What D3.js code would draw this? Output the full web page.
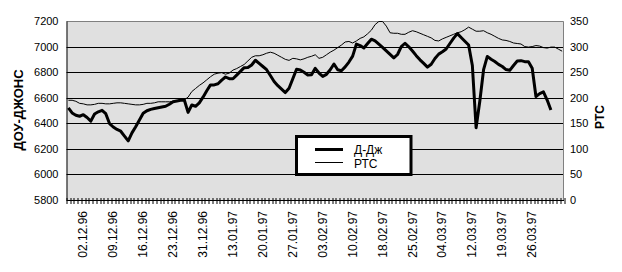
<!DOCTYPE html>
<html>
<head>
<meta charset="utf-8">
<script src="https://d3js.org/d3.v7.min.js"></script>
<style>
    body { margin: 0; background: #fff; }
    text { font-family: Arial, "Liberation Sans", sans-serif; fill: #000; }
</style>
</head>
<body>
<div id="chart-area"></div>
<script>
// Tick labels (every 8th trading day, first one at day 4)
var dateLabels = ["02.12.96", "09.12.96", "16.12.96", "23.12.96", "31.12.96", "13.01.97",
    "20.01.97", "27.01.97", "03.02.97", "10.02.97", "18.02.97", "25.02.97",
    "04.03.97", "12.03.97", "19.03.97", "26.03.97"];

// Dow Jones (left axis)
var djValues = [
    6520, 6481, 6463, 6455, 6467, 6445, 6417, 6473, 6490, 6501,
    6475, 6398, 6371, 6352, 6338, 6300, 6262, 6325, 6373, 6425,
    6478, 6498, 6509, 6516, 6522, 6528, 6533, 6549, 6568, 6574,
    6580, 6582, 6485, 6543, 6533, 6560, 6604, 6654, 6700, 6700,
    6709, 6738, 6762, 6749, 6748, 6777, 6806, 6835, 6836, 6856,
    6893, 6868, 6844, 6819, 6774, 6727, 6694, 6667, 6640, 6674,
    6748, 6823, 6817, 6799, 6778, 6779, 6830, 6793, 6767, 6783,
    6819, 6864, 6819, 6811, 6841, 6879, 6925, 7019, 7008, 6989,
    7024, 7058, 7045, 7019, 6994, 6967, 6939, 6911, 6938, 7000,
    7026, 6998, 6965, 6929, 6896, 6868, 6839, 6862, 6907, 6941,
    6959, 6981, 7024, 7066, 7101, 7071, 7042, 7012, 6852, 6365,
    6574, 6819, 6923, 6901, 6883, 6861, 6844, 6820, 6814, 6852,
    6887, 6890, 6882, 6882, 6830, 6610, 6632, 6646, 6582, 6504];

// RTS index (right axis)
var rtsValues = [
    195, 195, 193, 189, 188, 186, 186, 187, 189, 189,
    188, 188, 189, 190, 190, 189, 188, 187, 186, 186,
    187, 189, 189, 190, 192, 192, 192, 192, 193, 194,
    196, 196, 201, 212, 218, 224, 229, 235, 241, 246,
    248, 249, 246, 248, 254, 257, 261, 265, 272, 279,
    282, 282, 284, 287, 289, 287, 283, 279, 275, 273,
    277, 276, 274, 276, 279, 281, 284, 277, 279, 284,
    289, 293, 298, 303, 309, 310, 307, 311, 316, 319,
    325, 332, 343, 349, 349, 340, 327, 326, 326, 324,
    324, 328, 331, 329, 326, 323, 320, 317, 312, 311,
    315, 318, 321, 324, 327, 329, 333, 338, 334, 330,
    330, 331, 327, 324, 320, 316, 313, 312, 310, 307,
    306, 305, 300, 299, 300, 302, 301, 298, 297, 299,
    299, 295, 291];

var nDays = 133;

var margin = { left: 66.5, right: 58, top: 21, bottom: 72 };
var width = 622 - margin.left - margin.right,
    height = 272 - margin.top - margin.bottom;

var svg = d3.select("#chart-area")
    .append("svg")
        .attr("width", 622)
        .attr("height", 272);

var g = svg.append("g")
    .attr("transform", "translate(" + margin.left + ", " + margin.top + ")");

// Scales
var x = d3.scaleBand()
    .domain(d3.range(nDays))
    .range([0, width])
    .padding(0);

var yLeft = d3.scaleLinear()
    .domain([5800, 7200])
    .range([height, 0]);

var yRight = d3.scaleLinear()
    .domain([0, 350])
    .range([height, 0]);

function cx(i) { return x(i) + x.bandwidth() / 2; }

// Plot area
g.append("rect")
    .attr("width", width)
    .attr("height", height)
    .attr("fill", "#e0e0e0");

// Gridlines
g.append("g")
    .selectAll("line")
    .data(d3.range(6000, 7200, 200))
    .enter().append("line")
        .attr("x1", 0)
        .attr("x2", width)
        .attr("y1", function(d){ return Math.round(yLeft(d)) + 0.5; })
        .attr("y2", function(d){ return Math.round(yLeft(d)) + 0.5; })
        .attr("stroke", "#000")
        .attr("stroke-width", 1);

// Top and right borders
g.append("path")
    .attr("d", "M0,0.5H" + (width - 0.5) + "V" + height)
    .attr("fill", "none")
    .attr("stroke", "#808080");

// Left axis labels
var yAxisLeft = d3.axisLeft(yLeft)
    .tickValues(d3.range(5800, 7201, 200))
    .tickFormat(d3.format("d"))
    .tickSize(0)
    .tickPadding(8);
var yl = g.append("g").call(yAxisLeft);
yl.select(".domain").attr("stroke", "#000");
yl.selectAll("text")
    .attr("font-size", "11px")
    .attr("font-family", "Arial, 'Liberation Sans', sans-serif");

// Right axis labels
var yAxisRight = d3.axisRight(yRight)
    .tickValues(d3.range(0, 351, 50))
    .tickFormat(d3.format("d"))
    .tickSize(0)
    .tickPadding(6);
var yr = g.append("g")
    .attr("transform", "translate(" + width + ",0)")
    .call(yAxisRight);
yr.select(".domain").remove();
yr.selectAll("text")
    .attr("font-size", "11px")
    .attr("font-family", "Arial, 'Liberation Sans', sans-serif");

// X axis: line, crossing ticks at every day boundary
var xg = g.append("g")
    .attr("transform", "translate(0," + height + ")");
xg.append("line")
    .attr("x1", 0)
    .attr("x2", width)
    .attr("y1", 0.5)
    .attr("y2", 0.5)
    .attr("stroke", "#000");
xg.selectAll(".tick")
    .data(d3.range(nDays + 1))
    .enter().append("line")
        .attr("class", "tick")
        .attr("x1", function(d){ return Math.round(x.step() * d) + 0.5; })
        .attr("x2", function(d){ return Math.round(x.step() * d) + 0.5; })
        .attr("y1", -2)
        .attr("y2", 4)
        .attr("stroke", "#000");

xg.selectAll(".dlabel")
    .data(dateLabels)
    .enter().append("text")
        .attr("class", "dlabel")
        .attr("transform", function(d, i){
            return "translate(" + (cx(4 + 8 * i) + 4) + ",11) rotate(-90)";
        })
        .attr("text-anchor", "end")
        .attr("font-size", "12px")
        .text(function(d){ return d; });

// Lines
var djLine = d3.line()
    .x(function(d, i){ return cx(i); })
    .y(function(d){ return yLeft(d); });

var rtsLine = d3.line()
    .x(function(d, i){ return cx(i); })
    .y(function(d){ return yRight(d); });

g.append("path")
    .datum(rtsValues)
    .attr("fill", "none")
    .attr("stroke", "#000")
    .attr("stroke-width", 1)
    .attr("d", rtsLine);

g.append("path")
    .datum(djValues)
    .attr("fill", "none")
    .attr("stroke", "#000")
    .attr("stroke-width", 3)
    .attr("stroke-linejoin", "round")
    .attr("d", djLine);

// Axis titles
svg.append("text")
    .attr("transform", "translate(23,110) rotate(-90)")
    .attr("text-anchor", "middle")
    .attr("font-size", "13px")
    .attr("font-weight", "bold")
    .text("ДОУ-ДЖОНС");

svg.append("text")
    .attr("transform", "translate(604,117) rotate(-90)")
    .attr("text-anchor", "middle")
    .attr("font-size", "12px")
    .attr("font-weight", "bold")
    .text("РТС");

// Legend
var legend = svg.append("g");
legend.append("rect")
    .attr("x", 296.5)
    .attr("y", 136.5)
    .attr("width", 114.5)
    .attr("height", 38)
    .attr("fill", "#fff")
    .attr("stroke", "#000")
    .attr("stroke-width", 3);
legend.append("line")
    .attr("x1", 315).attr("x2", 343)
    .attr("y1", 149.5).attr("y2", 149.5)
    .attr("stroke", "#000").attr("stroke-width", 3);
legend.append("line")
    .attr("x1", 315).attr("x2", 343)
    .attr("y1", 162.5).attr("y2", 162.5)
    .attr("stroke", "#000").attr("stroke-width", 1);
legend.append("text")
    .attr("x", 354).attr("y", 153.5)
    .attr("font-size", "12px")
    .text("Д-Дж");
legend.append("text")
    .attr("x", 354).attr("y", 167.5)
    .attr("font-size", "12px")
    .text("РТС");
</script>
</body>
</html>
